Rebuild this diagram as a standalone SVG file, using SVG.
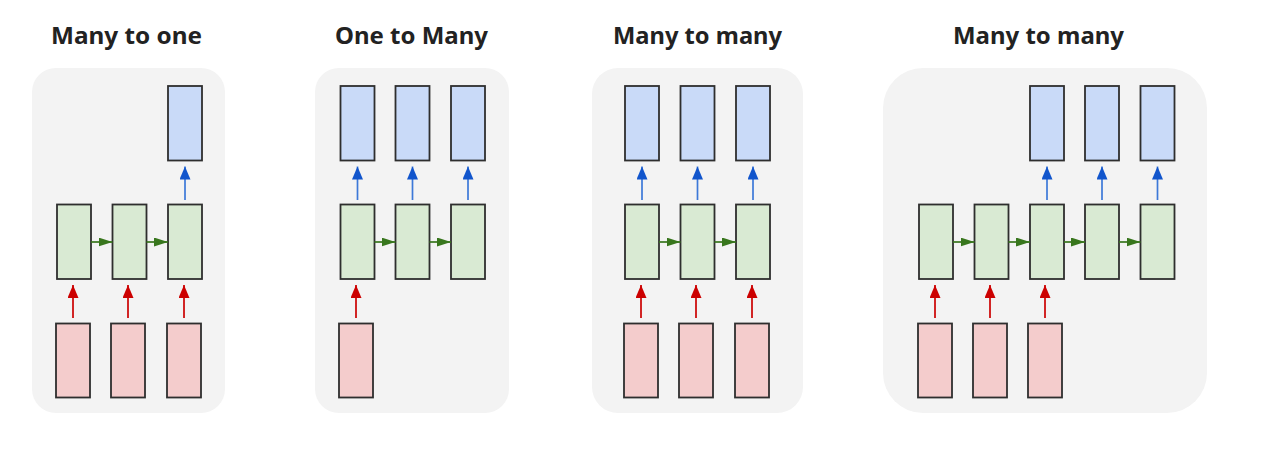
<svg xmlns="http://www.w3.org/2000/svg" width="1274" height="465" viewBox="0 0 1274 465">
<style>
.bg{fill:#f3f3f3}
.title{font-family:"Noto Sans","Liberation Sans",sans-serif;font-weight:bold;font-size:24px;fill:#222}
.in{fill:#f4cccc;stroke:#2e2e2e;stroke-width:1.8}
.hid{fill:#d9ead3;stroke:#2e2e2e;stroke-width:1.8}
.out{fill:#c9daf8;stroke:#2e2e2e;stroke-width:1.8}
.ar{stroke:#cc0000;stroke-width:1.7;fill:none;marker-end:url(#mr)}
.ab{stroke:#3c78d8;stroke-width:1.7;fill:none;marker-end:url(#mb)}
.ag{stroke:#38761d;stroke-width:1.7;fill:none;marker-end:url(#mg)}
</style>
<defs>
<marker id="mr" viewBox="0 0 13 11" refX="13" refY="5.5" markerWidth="13" markerHeight="11" markerUnits="userSpaceOnUse" orient="auto"><path d="M0,0 L13,5.5 L0,11 z" fill="#cc0000"/></marker>
<marker id="mb" viewBox="0 0 13 11" refX="13" refY="5.5" markerWidth="13" markerHeight="11" markerUnits="userSpaceOnUse" orient="auto"><path d="M0,0 L13,5.5 L0,11 z" fill="#1155cc"/></marker>
<marker id="mg" viewBox="0 0 14 9" refX="14" refY="4.5" markerWidth="14" markerHeight="9" markerUnits="userSpaceOnUse" orient="auto"><path d="M0,0 L14,4.5 L0,9 z" fill="#38761d"/></marker>
</defs>
<rect width="1274" height="465" fill="#ffffff"/>

<g id="titles">
<text class="title" x="51" y="44" textLength="151" lengthAdjust="spacingAndGlyphs">Many to one</text>
<text class="title" x="335" y="44" textLength="153" lengthAdjust="spacingAndGlyphs">One to Many</text>
<text class="title" x="613" y="44" textLength="169" lengthAdjust="spacingAndGlyphs">Many to many</text>
<text class="title" x="953" y="44" textLength="171" lengthAdjust="spacingAndGlyphs">Many to many</text>
</g>

<g id="panels">
<rect class="bg" x="32" y="68" width="193" height="345" rx="24"/>
<rect class="bg" x="315" y="68" width="194" height="345" rx="24"/>
<rect class="bg" x="592" y="68" width="211" height="345" rx="26"/>
<rect class="bg" x="883" y="68" width="324" height="345" rx="40"/>
</g>

<!-- Panel 1: Many to one -->
<g id="p1-in1"><rect class="in" x="56" y="323.5" width="34" height="74"/></g>
<g id="p1-in2"><rect class="in" x="111" y="323.5" width="34" height="74"/></g>
<g id="p1-in3"><rect class="in" x="167" y="323.5" width="34" height="74"/></g>
<g id="p1-h1"><rect class="hid" x="57" y="204.5" width="34" height="74.5"/></g>
<g id="p1-h2"><rect class="hid" x="112.5" y="204.5" width="34" height="74.5"/></g>
<g id="p1-h3"><rect class="hid" x="168" y="204.5" width="34" height="74.5"/></g>
<g id="p1-o1"><rect class="out" x="168" y="86" width="34" height="74.5"/></g>

<!-- Panel 2: One to many -->
<g id="p2-in1"><rect class="in" x="339" y="323.5" width="34" height="74"/></g>
<g id="p2-h1"><rect class="hid" x="340.5" y="204.5" width="34" height="74.5"/></g>
<g id="p2-h2"><rect class="hid" x="395.5" y="204.5" width="34" height="74.5"/></g>
<g id="p2-h3"><rect class="hid" x="451" y="204.5" width="34" height="74.5"/></g>
<g id="p2-o1"><rect class="out" x="340.5" y="86" width="34" height="74.5"/></g>
<g id="p2-o2"><rect class="out" x="395.5" y="86" width="34" height="74.5"/></g>
<g id="p2-o3"><rect class="out" x="451" y="86" width="34" height="74.5"/></g>

<!-- Panel 3: Many to many (synced) -->
<g id="p3-in1"><rect class="in" x="624" y="323.5" width="34" height="74"/></g>
<g id="p3-in2"><rect class="in" x="679" y="323.5" width="34" height="74"/></g>
<g id="p3-in3"><rect class="in" x="735" y="323.5" width="34" height="74"/></g>
<g id="p3-h1"><rect class="hid" x="625" y="204.5" width="34" height="74.5"/></g>
<g id="p3-h2"><rect class="hid" x="680.5" y="204.5" width="34" height="74.5"/></g>
<g id="p3-h3"><rect class="hid" x="736" y="204.5" width="34" height="74.5"/></g>
<g id="p3-o1"><rect class="out" x="625" y="86" width="34" height="74.5"/></g>
<g id="p3-o2"><rect class="out" x="680.5" y="86" width="34" height="74.5"/></g>
<g id="p3-o3"><rect class="out" x="736" y="86" width="34" height="74.5"/></g>

<!-- Panel 4: Many to many (seq2seq) -->
<g id="p4-in1"><rect class="in" x="918" y="323.5" width="34" height="74"/></g>
<g id="p4-in2"><rect class="in" x="973" y="323.5" width="34" height="74"/></g>
<g id="p4-in3"><rect class="in" x="1028" y="323.5" width="34" height="74"/></g>
<g id="p4-h1"><rect class="hid" x="919" y="204.5" width="34" height="74.5"/></g>
<g id="p4-h2"><rect class="hid" x="974.5" y="204.5" width="34" height="74.5"/></g>
<g id="p4-h3"><rect class="hid" x="1030" y="204.5" width="34" height="74.5"/></g>
<g id="p4-h4"><rect class="hid" x="1085" y="204.5" width="34" height="74.5"/></g>
<g id="p4-h5"><rect class="hid" x="1140.5" y="204.5" width="34" height="74.5"/></g>
<g id="p4-o1"><rect class="out" x="1030" y="86" width="34" height="74.5"/></g>
<g id="p4-o2"><rect class="out" x="1085" y="86" width="34" height="74.5"/></g>
<g id="p4-o3"><rect class="out" x="1140.5" y="86" width="34" height="74.5"/></g>

<g id="connectors">
<!-- panel 1 -->
<line class="ar" x1="73" y1="318" x2="73" y2="285"/>
<line class="ar" x1="128" y1="318" x2="128" y2="285"/>
<line class="ar" x1="184" y1="318" x2="184" y2="285"/>
<line class="ag" x1="91" y1="242" x2="112.5" y2="242"/>
<line class="ag" x1="146.5" y1="242" x2="168" y2="242"/>
<line class="ab" x1="185" y1="200" x2="185" y2="166.5"/>
<!-- panel 2 -->
<line class="ar" x1="356" y1="318" x2="356" y2="285"/>
<line class="ag" x1="374.5" y1="242" x2="395.5" y2="242"/>
<line class="ag" x1="429.5" y1="242" x2="451" y2="242"/>
<line class="ab" x1="357.5" y1="200" x2="357.5" y2="166.5"/>
<line class="ab" x1="412.5" y1="200" x2="412.5" y2="166.5"/>
<line class="ab" x1="468" y1="200" x2="468" y2="166.5"/>
<!-- panel 3 -->
<line class="ar" x1="641" y1="318" x2="641" y2="285"/>
<line class="ar" x1="696" y1="318" x2="696" y2="285"/>
<line class="ar" x1="752" y1="318" x2="752" y2="285"/>
<line class="ag" x1="659" y1="242" x2="680.5" y2="242"/>
<line class="ag" x1="714.5" y1="242" x2="736" y2="242"/>
<line class="ab" x1="642" y1="200" x2="642" y2="166.5"/>
<line class="ab" x1="697.5" y1="200" x2="697.5" y2="166.5"/>
<line class="ab" x1="753" y1="200" x2="753" y2="166.5"/>
<!-- panel 4 -->
<line class="ar" x1="935" y1="318" x2="935" y2="285"/>
<line class="ar" x1="990" y1="318" x2="990" y2="285"/>
<line class="ar" x1="1045" y1="318" x2="1045" y2="285"/>
<line class="ag" x1="953" y1="242" x2="974.5" y2="242"/>
<line class="ag" x1="1008.5" y1="242" x2="1030" y2="242"/>
<line class="ag" x1="1064" y1="242" x2="1085" y2="242"/>
<line class="ag" x1="1119" y1="242" x2="1140.5" y2="242"/>
<line class="ab" x1="1047" y1="200" x2="1047" y2="166.5"/>
<line class="ab" x1="1102" y1="200" x2="1102" y2="166.5"/>
<line class="ab" x1="1157.5" y1="200" x2="1157.5" y2="166.5"/>
</g>
</svg>
